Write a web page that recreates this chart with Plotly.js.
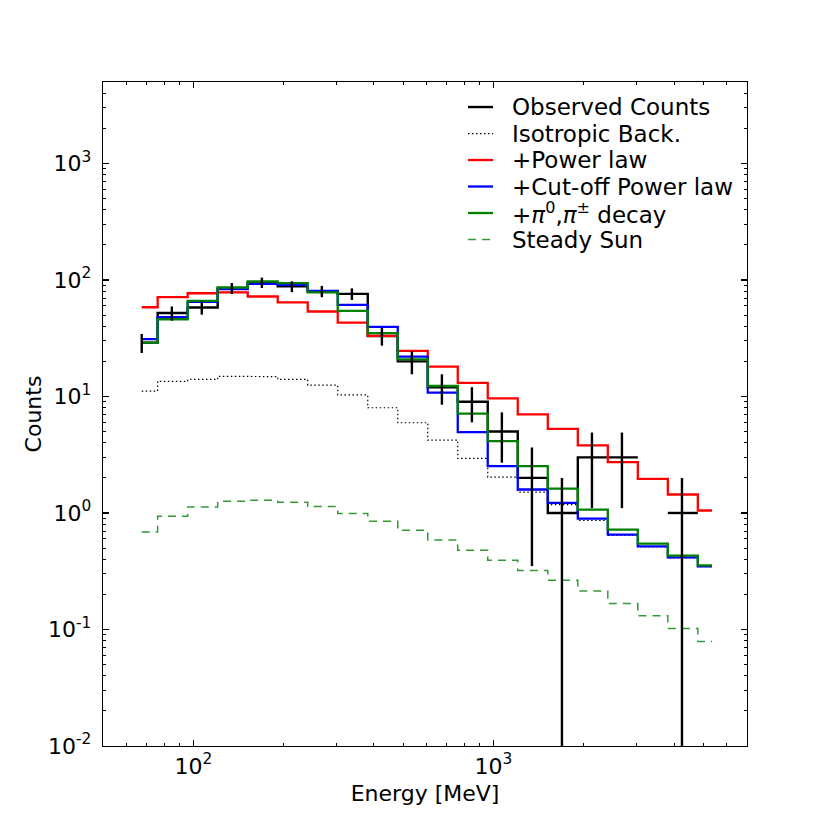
<!DOCTYPE html>
<html>
<head>
<meta charset="utf-8">
<script src="https://cdn.plot.ly/plotly-3.0.1.min.js"></script>
<style>
  html, body { margin: 0; padding: 0; background: #fff; }
  #graph { width: 830px; height: 830px; }
</style>
</head>
<body>
<div id="graph"></div>
<script>
// bin centres [MeV]
const energy = [67.3, 84.8, 106.7, 134.4, 169.2, 213.0, 268.1, 337.6, 425.0, 535.0,
                673.5, 847.9, 1067, 1344, 1692, 2130, 2681, 3376, 4250, 5350]

const observed = [29, 52, 58, 85, 95, 88, 80, 76, 33, 20, 12, 9, 5, 2, 1, 3, 3, 0, 1, 0]
const observedErr = [5.4, 7.2, 7.6, 9.2, 9.7, 9.4, 8.9, 8.7, 5.7, 4.5,
                     3.5, 3.0, 2.3, 1.65, 1.0, 1.9, 1.9, 0, 1.0, 0]

const isotropic = [11.1, 13.5, 14.0, 14.9, 14.8, 14.0, 12.5, 10.3, 8.0, 5.95,
                   4.22, 2.94, 2.03, 1.51, 1.18, 0.865, 0.643, 0.511, 0.411, 0.346]
const powerLaw = [58.3, 71.1, 76.9, 78.1, 72.1, 64.1, 53.6, 43.1, 33.1, 24.6,
                  18.0, 13.1, 9.63, 7.02, 5.28, 3.80, 2.73, 1.96, 1.44, 1.05]
const cutoffPL = [31.0, 47.9, 64.8, 83.4, 92.5, 90.8, 80.6, 61.1, 39.5, 22.0,
                  10.8, 4.94, 2.52, 1.59, 1.22, 0.895, 0.652, 0.517, 0.416, 0.348]
const pionDecay = [29.0, 46.0, 66.1, 86.1, 97.0, 93.8, 78.1, 54.2, 34.9, 20.8,
                   12.3, 7.11, 4.14, 2.52, 1.62, 1.07, 0.720, 0.546, 0.430, 0.355]
const steadySun = [0.688, 0.938, 1.128, 1.26, 1.286, 1.236, 1.135, 0.988, 0.849, 0.710,
                   0.587, 0.478, 0.392, 0.321, 0.264, 0.214, 0.167, 0.131, 0.102, 0.079]

const yTickVals = [0.01, 0.1, 1, 10, 100, 1000]
const yTickText = ["10<sup>-2</sup>", "10<sup>-1</sup>", "10<sup>0</sup>", "10<sup>1</sup>", "10<sup>2</sup>", "10<sup>3</sup>"]
const xTickVals = [100, 1000]
const xTickText = ["10<sup>2</sup>", "10<sup>3</sup>"]

// matplotlib-like steps-mid: the step sits at the linear midpoint between centres
function steps(vals) {
    const xs = [], ys = []
    const n = energy.length
    for (let k = 0; k < n; k++) {
        const left = k === 0 ? energy[0] : (energy[k - 1] + energy[k]) / 2
        const right = k === n - 1 ? energy[n - 1] : (energy[k] + energy[k + 1]) / 2
        const v = vals[k] > 0 ? vals[k] : null
        xs.push(left, right)
        ys.push(v, v)
    }
    return { x: xs, y: ys }
}

function minorTicks(lo, hi) {
    const out = []
    for (let d = lo; d < hi; d *= 10)
        for (let m = 2; m <= 9; m++) out.push(m * d)
    return out
}

const series = [
    { vals: observed, name: "Observed Counts", line: { color: "black", width: 2.4 } },
    { vals: isotropic, name: "Isotropic Back.", line: { color: "black", width: 1.2, dash: "1.5px,2.5px" } },
    { vals: powerLaw, name: "+Power law", line: { color: "#ff0000", width: 2.3 } },
    { vals: cutoffPL, name: "+Cut-off Power law", line: { color: "#0000ff", width: 2.3 } },
    { vals: pionDecay, name: "+<i>π</i><sup>0</sup>,<i>π</i><sup>±</sup> decay", line: { color: "#008000", width: 2.3 } },
    { vals: steadySun, name: "Steady Sun", line: { color: "rgba(0,128,0,0.8)", width: 1.5, dash: "8px,6px" } }
]

const traces = series.map(s => {
    const st = steps(s.vals)
    return { x: st.x, y: st.y, name: s.name, type: "scatter", mode: "lines", line: s.line, hoverinfo: "skip" }
})

traces.push({
    x: energy,
    y: observed.map(v => v > 0 ? v : null),
    type: "scatter",
    mode: "markers",
    marker: { size: 0.1, color: "black" },
    error_y: { type: "data", array: observedErr, symmetric: true, thickness: 2.4, width: 0, color: "black" },
    hoverinfo: "skip"
})

// legend drawn by hand so the row spacing matches matplotlib's
const shapes = [], annotations = []
series.forEach((s, i) => {
    const yy = 0.9623 - i * 0.0399
    shapes.push({ type: "line", xref: "paper", yref: "paper", x0: 0.5668, x1: 0.6056, y0: yy, y1: yy, line: s.line })
    annotations.push({
        xref: "paper", yref: "paper", x: 0.633, y: yy, xanchor: "left", yanchor: "middle",
        text: s.name, showarrow: false, borderpad: 0,
        font: { family: "DejaVu Sans, sans-serif", size: 23, color: "black" }
    })
})

const layout = {
    width: 830,
    height: 830,
    margin: { l: 103, r: 83, t: 82, b: 84 },
    paper_bgcolor: "white",
    plot_bgcolor: "white",
    font: { family: "DejaVu Sans, sans-serif", size: 22, color: "black" },
    showlegend: false,
    shapes: shapes,
    annotations: annotations,
    xaxis: {
        type: "log",
        range: [Math.log10(50), Math.log10(7000)],
        tickmode: "array", tickvals: xTickVals, ticktext: xTickText,
        ticks: "inside", ticklen: 6, tickwidth: 1.2, tickcolor: "black",
        minor: { tickmode: "array", tickvals: minorTicks(10, 10000), ticks: "inside", ticklen: 3, tickwidth: 1, tickcolor: "black" },
        showline: true, linecolor: "black", linewidth: 1.3, mirror: "allticks",
        showgrid: false, zeroline: false,
        tickfont: { size: 22 },
        title: { text: "Energy [MeV]", font: { size: 22 }, standoff: 8 }
    },
    yaxis: {
        type: "log",
        range: [-2, Math.log10(5000)],
        tickmode: "array", tickvals: yTickVals, ticktext: yTickText,
        ticks: "inside", ticklen: 6, tickwidth: 1.2, tickcolor: "black",
        minor: { tickmode: "array", tickvals: minorTicks(0.01, 10000), ticks: "inside", ticklen: 3, tickwidth: 1, tickcolor: "black" },
        showline: true, linecolor: "black", linewidth: 1.3, mirror: "allticks",
        showgrid: false, zeroline: false,
        tickfont: { size: 22 },
        ticklabelstandoff: 6,
        title: { text: "Counts", font: { size: 22 }, standoff: 0 }
    }
}

Plotly.newPlot("graph", traces, layout, { staticPlot: true })
</script>
</body>
</html>
